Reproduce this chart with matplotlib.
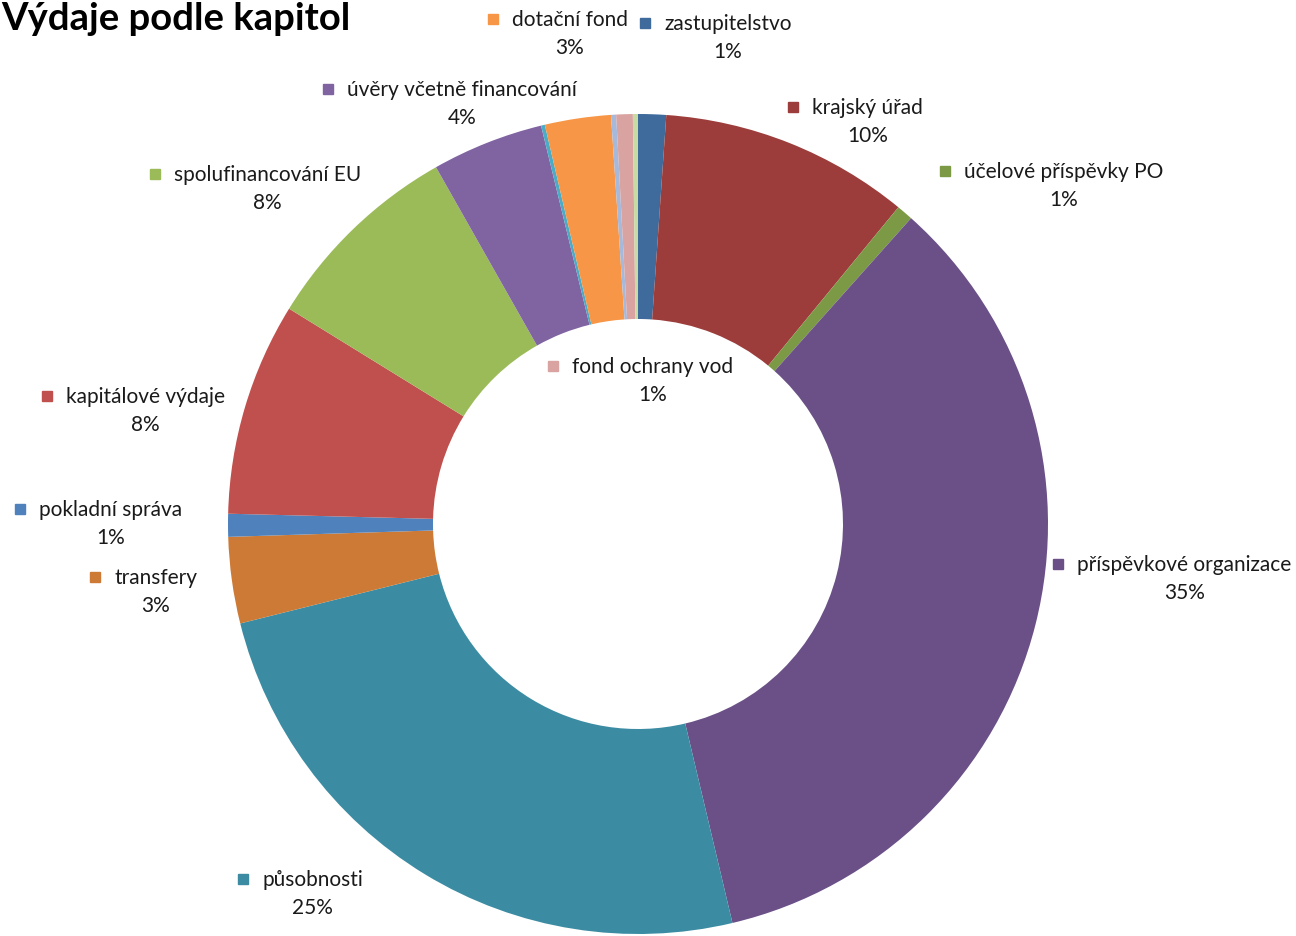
import matplotlib.pyplot as plt

plt.rcParams['font.family'] = ['Lato', 'DejaVu Sans']

# Kapitoly v pořadí po směru hodinových ručiček od 12 hodin
kapitoly = ['zastupitelstvo', 'krajský úřad', 'účelové příspěvky PO',
            'příspěvkové organizace', 'působnosti', 'transfery',
            'pokladní správa', 'kapitálové výdaje', 'spolufinancování EU',
            'úvěry včetně financování', '', 'dotační fond', '',
            'fond ochrany vod', '']
podil = [1.1, 9.85, 0.65, 34.7, 24.8, 3.4, 0.9, 8.4, 8.0, 4.4, 0.15,
         2.6, 0.2, 0.65, 0.2]
barvy = ['#3E6A9C', '#9C3D3B', '#7C9A45', '#6A5087', '#3B8CA3', '#CC7A36',
         '#4F81BD', '#C0504D', '#9BBB59', '#8064A2', '#4BACC6', '#F79646',
         '#A7B9DB', '#D9A3A2', '#C9DBA5']

# pozice popisků (střed značky, pixely obrázku)
popisky_pos = {
    'zastupitelstvo': (645, 24),
    'krajský úřad': (793, 108),
    'účelové příspěvky PO': (945, 172),
    'příspěvkové organizace': (1058, 565),
    'působnosti': (243, 880),
    'transfery': (95, 578),
    'pokladní správa': (20, 510),
    'kapitálové výdaje': (47, 397),
    'spolufinancování EU': (155, 175),
    'úvěry včetně financování': (328, 90),
    'dotační fond': (493, 20),
    'fond ochrany vod': (553, 367),
}

W, H = 1296, 937
fig = plt.figure(figsize=(W / 100, H / 100), dpi=100)
ax = fig.add_axes([0, 0, 1, 1])

cx, cy, r = 638, H - 525, 410
ax.pie(podil, colors=barvy, startangle=90, counterclock=False,
       center=(cx, cy), radius=r, frame=True,
       wedgeprops=dict(width=r * 0.5, linewidth=0))
ax.set_xlim(0, W)
ax.set_ylim(0, H)
ax.set_aspect('equal')
ax.axis('off')

txt_col = '#1a1a1a'
for i, name in enumerate(kapitoly):
    if not name:
        continue
    sx, sy = popisky_pos[name]
    ax.plot(sx, H - sy, marker='s', markersize=7.5, color=barvy[i],
            linestyle='none')
    t = ax.text(sx + 19, H - sy, name, fontsize=15, color=txt_col,
                ha='left', va='center')
    fig.canvas.draw()
    bb = t.get_window_extent()
    mid = (bb.x0 + bb.x1) / 2
    ax.text(mid, H - sy - 28, '{:.0f}%'.format(round(podil[i])),
            fontsize=15, color=txt_col, ha='center', va='center')

fig.text(0.001, 1 - 19 / H, 'Výdaje podle kapitol', fontsize=27.5,
         fontweight='bold', color='black', ha='left', va='center')

fig.savefig('out.png', dpi=100)
